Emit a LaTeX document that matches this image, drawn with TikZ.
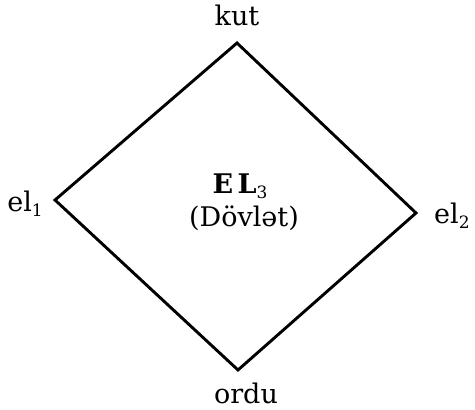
\documentclass[tikz,border=0pt]{standalone}
\usepackage{fontspec}
\setmainfont{DejaVu Serif}
\newcommand{\mysub}[1]{\raisebox{-0.3ex}{\fontsize{17}{17}\selectfont #1}}
\begin{document}
\begin{tikzpicture}[x=1pt,y=1pt,
  edge/.style={line width=2.9pt, line join=miter},
  lbl/.style={inner sep=0pt, font=\fontsize{27}{30}\selectfont}]
\useasboundingbox (0,0) rectangle (475,410);
\coordinate (T) at (237,367);
\coordinate (L) at (55,210);
\coordinate (R) at (416,197);
\coordinate (B) at (238,40);
\draw[edge] (T) -- (R) -- (B) -- (L) -- cycle;
\node[lbl, anchor=base] (kut) at (237,384) {kut};
\node[lbl, anchor=base east] (el1) at (43,198) {el\mysub{1}};
\node[lbl, anchor=base west] (el2) at (434,186) {el\mysub{2}};
\node[lbl, anchor=base] (ordu) at (246,6) {ordu};
\node[lbl, anchor=base] (el3) at (240,216) {\textbf{E\,L}\mysub{3}};
\node[lbl, anchor=base] (dov) at (244,183) {(Dövlət)};
\end{tikzpicture}
\end{document}
